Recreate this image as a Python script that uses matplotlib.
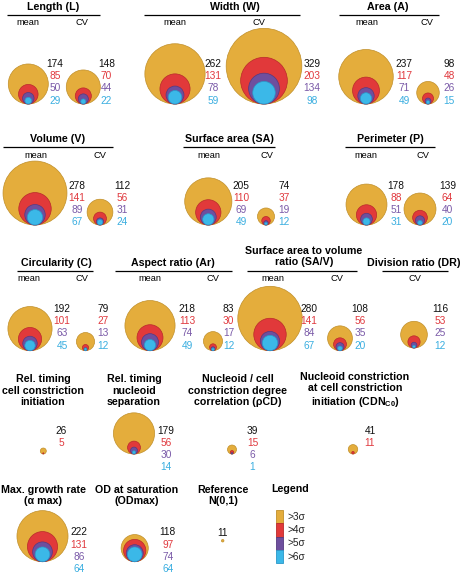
import matplotlib
matplotlib.use("Agg")
import matplotlib.pyplot as plt
from matplotlib.patches import Circle, Rectangle

plt.rcParams['font.family'] = ['Liberation Sans', 'DejaVu Sans']
plt.rcParams['mathtext.fontset'] = 'custom'
plt.rcParams['mathtext.rm'] = 'Liberation Sans:bold'
plt.rcParams['mathtext.default'] = 'rm'

# ---------------- data ----------------
levels = [">3σ", ">4σ", ">5σ", ">6σ"]

length_mean = [174, 85, 50, 29]
length_cv = [148, 70, 44, 22]
width_mean = [262, 131, 78, 59]
width_cv = [329, 203, 134, 98]
area_mean = [237, 117, 71, 49]
area_cv = [98, 48, 26, 15]
volume_mean = [278, 141, 89, 67]
volume_cv = [112, 56, 31, 24]
surface_mean = [205, 110, 69, 49]
surface_cv = [74, 37, 19, 12]
perimeter_mean = [178, 88, 51, 31]
perimeter_cv = [139, 64, 40, 20]
circularity_mean = [192, 101, 63, 45]
circularity_cv = [79, 27, 13, 12]
aspect_mean = [218, 113, 74, 49]
aspect_cv = [83, 30, 17, 12]
sav_mean = [280, 141, 84, 67]
sav_cv = [108, 56, 35, 20]
division_cv = [116, 53, 25, 12]
reltime_constriction = [26, 5]
reltime_nucleoid = [179, 56, 30, 14]
nucleoid_corr = [39, 15, 6, 1]
cdn_c0 = [41, 11]
max_growth = [222, 131, 86, 64]
od_max = [118, 97, 74, 64]
reference = [11]

# ---------------- style ----------------
fills = ["#E4AD3C", "#E1393A", "#6E4F9E", "#3BB8E8"]
edges = ["#C08F2A", "#B82A2A", "#553A80", "#2A98C8"]
txtcol = ["#111111", "#E0393E", "#7A5AA8", "#3AAEE0"]
K = 0.115  # px radius per count

fig = plt.figure(figsize=(4.62, 5.74), dpi=100)
ax = fig.add_axes([0, 0, 1, 1])
ax.set_xlim(0, 462)
ax.set_ylim(574, 0)
ax.axis('off')

TFS = 7.7
NFS = 7.3
SFS = 6.7


def bubbles(counts, cx, bottom, lx, ly0, step=12.2):
    for i, c in enumerate(counts):
        r = K * c
        ax.add_patch(Circle((cx, bottom - r), r, facecolor=fills[i],
                            edgecolor=edges[i], linewidth=0.5, zorder=2 + i))
    for i, c in enumerate(counts):
        ax.text(lx, ly0 + i * step, str(c), color=txtcol[i], fontsize=NFS,
                ha='center', va='center')


def header(title, tx, ty, line=None, line_y=None, subs=None, sub_y=None,
           linespacing=1.2):
    ax.text(tx, ty, title, fontsize=TFS, fontweight='bold', ha='center',
            va='center', linespacing=linespacing)
    if line is not None:
        ax.plot(line, [line_y, line_y], color='black', lw=0.9, solid_capstyle='butt')
    if subs:
        for s, x in subs:
            ax.text(x, sub_y, s, fontsize=SFS, ha='center', va='center')


# Row 1
header("Length (L)", 53.5, 7, (7, 100), 14.5, [("mean", 28), ("CV", 82)], 22.7)
bubbles(length_mean, 28.3, 104, 55, 64)
bubbles(length_cv, 83.3, 104, 106.5, 64)
header("Width (W)", 235, 7, (144, 300), 14.5, [("mean", 175), ("CV", 259)], 22.7)
bubbles(width_mean, 175, 104, 213, 64)
bubbles(width_cv, 264, 104, 312, 64)
header("Area (A)", 388, 7, (339, 439), 14.5, [("mean", 367), ("CV", 427)], 22.7)
bubbles(area_mean, 366, 104, 404, 64)
bubbles(area_cv, 428, 104, 449, 64)

# Row 2
header("Volume (V)", 58, 139.5, (3, 113), 147, [("mean", 36), ("CV", 100)], 155)
bubbles(volume_mean, 35, 225, 77, 185.7)
bubbles(volume_cv, 100, 225, 122, 185.7)
header("Surface area (SA)", 229, 139.5, (183, 275), 147, [("mean", 209), ("CV", 267)], 155)
bubbles(surface_mean, 208.3, 225, 241, 185.7)
bubbles(surface_cv, 266, 225, 284, 185.7)
header("Perimeter (P)", 390, 139.5, (345, 435), 147, [("mean", 366), ("CV", 423)], 155)
bubbles(perimeter_mean, 366.5, 225, 396, 185.7)
bubbles(perimeter_cv, 420, 225, 447.5, 185.7)

# Row 3
header("Circularity (C)", 56, 263, (17, 93), 271, [("mean", 29), ("CV", 82)], 278.5)
bubbles(circularity_mean, 30, 350.7, 62, 309)
bubbles(circularity_cv, 85.5, 350.7, 103, 309)
header("Aspect ratio (Ar)", 173, 263, (115, 232), 271, [("mean", 150), ("CV", 213)], 278.5)
bubbles(aspect_mean, 150, 350.7, 187, 309)
bubbles(aspect_cv, 213, 350.7, 228.5, 309)
header("Surface area to volume\nratio (SA/V)", 304, 256.5, (247, 357), 271,
       [("mean", 273), ("CV", 337)], 278.5)
bubbles(sav_mean, 270, 350.7, 309, 309)
bubbles(sav_cv, 340, 350.7, 360, 309)
header("Division ratio (DR)", 414, 263, (382, 448), 271, [("CV", 415)], 278.5)
bubbles(division_cv, 414, 348, 440, 309)

# Row 4
header("Rel. timing\ncell constriction\ninitiation", 43, 390.5)
bubbles(reltime_constriction, 43.3, 454, 61, 430.5)
header("Rel. timing\nnucleoid\nseparation", 134, 390.5)
bubbles(reltime_nucleoid, 134, 454, 166, 430.5)
header("Nucleoid / cell\nconstriction degree\ncorrelation (ρCD)", 238, 390.5)
bubbles(nucleoid_corr, 232, 454, 252.5, 430.5)
header("Nucleoid constriction\nat cell constriction\ninitiation (CDN$_{\\mathregular{C0}}$)", 355, 390.5)
bubbles(cdn_c0, 353, 454, 370, 430.5)

# Row 5
header("Max. growth rate\n(α max)", 43.5, 495.5)
bubbles(max_growth, 42.5, 561.7, 78.7, 532.3)
header("OD at saturation\n(ODmax)", 137, 495.5)
bubbles(od_max, 134.7, 561.7, 167.7, 532.3)
header("Reference\nN(0,1)", 223, 495.5)
bubbles(reference, 222.7, 542, 222.5, 533)

# Legend
ax.text(290, 489, "Legend", fontsize=TFS, fontweight='bold', ha='center', va='center')
seg = 13.3
for i, lab in enumerate(levels):
    y0 = 510 + i * seg
    ax.add_patch(Rectangle((275.7, y0), 7.6, seg, facecolor=fills[i],
                           edgecolor=edges[i], linewidth=0.6))
    ax.text(287.3, y0 + seg / 2, lab, fontsize=NFS, ha='left', va='center',
            color='#222222')

fig.savefig("out.png", dpi=100)
